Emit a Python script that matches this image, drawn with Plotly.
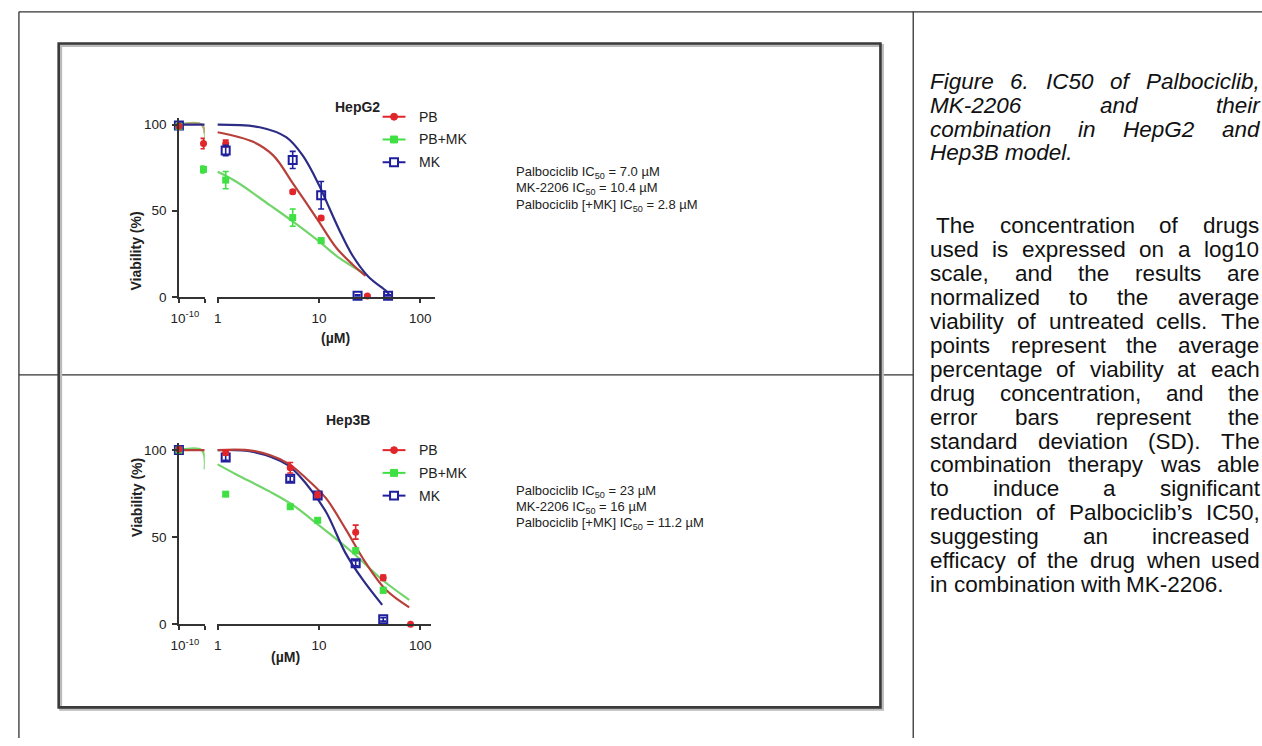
import plotly.graph_objects as go

W, H = 1262, 746

# ---------------- data ----------------
series_names = ["PB", "PB+MK", "MK"]

# HepG2 - control segment (plotted on the broken 10^-10 segment)
g2_seg1_x = [1e-10, 1e-9]
g2_seg1_pb = [99, 89]
g2_seg1_pbmk = [99, 74]
g2_seg1_pb_sd = [1, 3]
g2_seg1_pbmk_sd = [1, 2]
g2_seg1_mk_x = [1e-10]
g2_seg1_mk = [99.5]
g2_seg1_mk_sd = [2]

# HepG2 - concentration points (uM)
g2_x_pb = [1.2, 5.5, 10.5, 30]
g2_pb = [89, 61, 45.7, 0.5]
g2_pb_sd = [2, 1, 1, 0.5]
g2_x_pbmk = [1.2, 5.5, 10.5]
g2_pbmk = [67.8, 46, 32.6]
g2_pbmk_sd = [5, 5, 1.5]
g2_x_mk = [1.2, 5.5, 10.5, 24, 48]
g2_mk = [85, 79.5, 59, 0.6, 0.6]
g2_mk_sd = [3, 5, 8, 0.5, 0.5]

# HepG2 fitted curves
g2_fit_seg1_x = [1e-10, 8.5e-10, 1.12e-9]
g2_fit_seg1_pb = [100, 100, 95]
g2_fit_seg1_pbmk = [100, 100, 86]
g2_fit_seg1_mk = [100, 100, 100]
g2_fit_pb_x = [1.0, 2.24, 3.55, 5.5, 7.4, 10.0, 14.8, 21.4, 28.8]
g2_fit_pb = [95.6, 90, 82, 66, 55, 43.5, 28.5, 18.8, 12.1]
g2_fit_pbmk_x = [1.0, 1.53, 3.24, 5.5, 10.0, 15.8, 28.8]
g2_fit_pbmk = [72.6, 66.8, 53.4, 43.8, 32.2, 22.6, 13.1]
g2_fit_mk_x = [1.0, 2.6, 4.74, 6.9, 10.0, 11.7, 15.8, 21.4, 30.9, 45.7, 49.0]
g2_fit_mk = [100, 98.5, 92.7, 82.1, 64.9, 56, 39, 24, 11.5, 3.5, 1.5]

# Hep3B - control
b3_seg1_x = [1e-10]
b3_seg1_pb = [100.5]
b3_seg1_pbmk = [100]
b3_seg1_mk = [100]

# Hep3B - concentration points (uM)
b3_x = [1.2, 5.2, 9.7, 23, 43]
b3_pb = [98.6, 89.9, 74.3, 52.9, 26.7]
b3_pb_sd = [1.5, 3, 1.5, 4, 1.5]
b3_pbmk = [74.7, 67.5, 59.7, 42.2, 19.5]
b3_pbmk_sd = [1, 1, 1, 1.5, 1.5]
b3_mk = [95.7, 83.5, 73.9, 35, 2.8]
b3_mk_sd = [1.5, 1.5, 1.5, 1.5, 1]
b3_x_pb_extra = [80]
b3_pb_extra = [0]

# Hep3B fitted curves
b3_fit_seg1_x = [1e-10, 8.5e-10, 1.12e-9]
b3_fit_seg1_pb = [100, 100, 100]
b3_fit_seg1_pbmk = [100, 100, 89]
b3_fit_pb_x = [1.0, 2.24, 4.79, 7.4, 11.7, 18.2, 28.8, 45.7, 77.6]
b3_fit_pb = [100, 99.6, 92.8, 84, 72.4, 54.9, 35.4, 19.8, 9.7]
b3_fit_pbmk_x = [1.0, 1.53, 3.24, 5.5, 10.0, 21.4, 41.7, 77.6]
b3_fit_pbmk = [91.8, 86, 76.3, 68.5, 56.8, 41.2, 25.7, 14]
b3_fit_mk_x = [1.0, 2.24, 4.79, 7.4, 11.7, 18.2, 26.9, 42]
b3_fit_mk = [100, 99, 91.8, 81, 64.6, 41, 25.7, 11.1]

y_ticks = [0, 50, 100]
x_ticks = [1, 10, 100]
x_ticklabels = ["1", "10", "100"]

g2_ic50_lines = ["Palbociclib IC<sub>50</sub> = 7.0 \u00b5M",
                 "MK-2206 IC<sub>50</sub> = 10.4 \u00b5M",
                 "Palbociclib [+MK] IC<sub>50</sub> = 2.8 \u00b5M"]
b3_ic50_lines = ["Palbociclib IC<sub>50</sub> = 23 \u00b5M",
                 "MK-2206 IC<sub>50</sub> = 16 \u00b5M",
                 "Palbociclib [+MK] IC<sub>50</sub> = 11.2 \u00b5M"]

caption_title_lines = ["Figure 6. IC50 of Palbociclib,", "MK-2206 and their",
                       "combination in HepG2 and", "Hep3B model."]
caption_body_lines = [" The concentration of drugs", "used is expressed on a log10",
                      "scale, and the results are", "normalized to the average",
                      "viability of untreated cells. The", "points represent the average",
                      "percentage of viability at each", "drug concentration, and the",
                      "error bars represent the", "standard deviation (SD). The",
                      "combination therapy was able", "to induce a significant",
                      "reduction of Palbociclib\u2019s IC50,", "suggesting an increased",
                      "efficacy of the drug when used", "in combination with MK-2206."]

# ---------------- styles ----------------
FONT = "Liberation Sans, Arial, sans-serif"
C_PB, C_PBMK, C_MK = "#e0262b", "#3fe043", "#1f1f9e"
L_PB, L_PBMK, L_MK = "#b8403a", "#72d56a", "#2c2c86"
AX = "#333333"
TXT = "#222222"
CFS = 13.5  # chart text size


def px(x):
    return x / W


def py(y):
    return 1 - y / H


fig = go.Figure()

# axis geometry (pixels)
panels = [
    dict(y0=300, y100=126, seg1=(172, 198), seg2=(210, 430)),
    dict(y0=631, y100=455, seg1=(172, 198), seg2=(210, 426)),
]


def seg2_range(a, b):
    return [(a - 211) / 102.0, (b - 211) / 102.0]


tickfont = dict(family=FONT, size=CFS, color=TXT)
layout_axes = {}
for i, p in enumerate(panels):
    unit = (p["y0"] - p["y100"]) / 100.0
    ytop = p["y100"] - 4 * unit
    xa1 = "xaxis" if i == 0 else "xaxis3"
    xa2 = "xaxis2" if i == 0 else "xaxis4"
    ya = "yaxis" if i == 0 else "yaxis2"
    yref = "y" if i == 0 else "y2"
    xr1 = "x" if i == 0 else "x3"
    common_x = dict(showline=True, linecolor=AX, linewidth=1.6, ticks="outside", ticklen=4,
                    tickcolor=AX, tickwidth=1.5, showgrid=False, zeroline=False,
                    tickfont=tickfont, anchor=yref, type="log", ticklabelstandoff=4)
    layout_axes[xa1] = dict(domain=[px(p["seg1"][0]), px(p["seg1"][1])],
                            range=[-10, -8.95], tickvals=[1e-10, 10 ** -8.95],
                            ticktext=["10<sup>-10</sup>", ""], ticklabelshift=6, **common_x)
    layout_axes[xa2] = dict(domain=[px(p["seg2"][0]), px(p["seg2"][1])],
                            range=seg2_range(*p["seg2"]), tickvals=x_ticks,
                            ticktext=x_ticklabels, **common_x)
    layout_axes[ya] = dict(domain=[py(p["y0"]), py(ytop)], range=[0, 104], anchor=xr1,
                           showline=True, linecolor=AX, linewidth=1.6, ticks="outside",
                           ticklen=5, tickcolor=AX, tickwidth=1.5, tickvals=y_ticks,
                           showgrid=False, zeroline=False, tickfont=tickfont,
                           ticklabelstandoff=3)


def add_curve(x, y, color, xr, yr):
    fig.add_trace(go.Scatter(x=x, y=y, mode="lines",
                             line=dict(color=color, width=2.2, shape="spline", smoothing=1.0),
                             xaxis=xr, yaxis=yr, showlegend=False, hoverinfo="skip"))


def style(kind):
    if kind == "PB":
        return dict(symbol="circle", size=7, color=C_PB), C_PB
    if kind == "PB+MK":
        return dict(symbol="square", size=7, color=C_PBMK), C_PBMK
    return dict(symbol="square-open", size=8, color=C_MK, line=dict(width=2, color=C_MK)), C_MK


def add_pts(x, y, sd, kind, xr, yr):
    m, c = style(kind)
    fig.add_trace(go.Scatter(x=x, y=y, mode="markers", marker=m, cliponaxis=False,
                             error_y=dict(type="data", array=sd, visible=sd is not None,
                                          color=c, thickness=1.6, width=3),
                             xaxis=xr, yaxis=yr, showlegend=False))


# ---- HepG2 ----
add_curve(g2_fit_seg1_x, g2_fit_seg1_pbmk, L_PBMK, "x", "y")
add_curve(g2_fit_seg1_x, g2_fit_seg1_pb, "#c9a070", "x", "y")
add_curve(g2_fit_seg1_x, g2_fit_seg1_mk, L_MK, "x", "y")
add_curve(g2_fit_pbmk_x, g2_fit_pbmk, L_PBMK, "x2", "y")
add_curve(g2_fit_pb_x, g2_fit_pb, L_PB, "x2", "y")
add_curve(g2_fit_mk_x, g2_fit_mk, L_MK, "x2", "y")
add_pts(g2_seg1_mk_x, g2_seg1_mk, g2_seg1_mk_sd, "MK", "x", "y")
add_pts(g2_seg1_x, g2_seg1_pbmk, g2_seg1_pbmk_sd, "PB+MK", "x", "y")
add_pts(g2_seg1_x, g2_seg1_pb, g2_seg1_pb_sd, "PB", "x", "y")
add_pts(g2_x_pbmk, g2_pbmk, g2_pbmk_sd, "PB+MK", "x2", "y")
add_pts(g2_x_pb, g2_pb, g2_pb_sd, "PB", "x2", "y")
add_pts(g2_x_mk, g2_mk, g2_mk_sd, "MK", "x2", "y")

# ---- Hep3B ----
add_curve(b3_fit_seg1_x, b3_fit_seg1_pbmk, L_PBMK, "x3", "y2")
add_curve(b3_fit_seg1_x, b3_fit_seg1_pb, L_PB, "x3", "y2")
add_curve(b3_fit_pbmk_x, b3_fit_pbmk, L_PBMK, "x4", "y2")
add_curve(b3_fit_mk_x, b3_fit_mk, L_MK, "x4", "y2")
add_curve(b3_fit_pb_x, b3_fit_pb, L_PB, "x4", "y2")
add_pts(b3_seg1_x, b3_seg1_mk, None, "MK", "x3", "y2")
add_pts(b3_seg1_x, b3_seg1_pbmk, None, "PB+MK", "x3", "y2")
add_pts(b3_seg1_x, b3_seg1_pb, None, "PB", "x3", "y2")
add_pts(b3_x, b3_pbmk, b3_pbmk_sd, "PB+MK", "x4", "y2")
add_pts(b3_x, b3_mk, b3_mk_sd, "MK", "x4", "y2")
add_pts(b3_x, b3_pb, b3_pb_sd, "PB", "x4", "y2")
add_pts(b3_x_pb_extra, b3_pb_extra, None, "PB", "x4", "y2")

ann = []
shapes = []


def paper_ann(text, x, y, size=CFS, **kw):
    d = dict(text=text, x=px(x), y=py(y), xref="paper", yref="paper", showarrow=False,
             font=dict(family=FONT, size=size, color=kw.pop("color", TXT)))
    d.update(kw)
    ann.append(d)


# legends drawn as small glyphs + text (to the right of the curves)
leg_cols = {"PB": (C_PB, "circle"), "PB+MK": (C_PBMK, "square"), "MK": (C_MK, "open")}
for rows in ([118, 141, 164], [455, 478, 501]):
    for name, yy in zip(series_names, rows):
        c, kind = leg_cols[name]
        shapes.append(dict(type="line", xref="paper", yref="paper", x0=px(377), x1=px(400),
                           y0=py(yy), y1=py(yy), line=dict(color=c, width=2)))
        if kind == "circle":
            shapes.append(dict(type="circle", xref="paper", yref="paper", x0=px(385), x1=px(392),
                               y0=py(yy + 3.5), y1=py(yy - 3.5), fillcolor=c, line=dict(color=c, width=1)))
        elif kind == "square":
            shapes.append(dict(type="rect", xref="paper", yref="paper", x0=px(385), x1=px(392),
                               y0=py(yy + 3.5), y1=py(yy - 3.5), fillcolor=c, line=dict(color=c, width=1)))
        else:
            shapes.append(dict(type="rect", xref="paper", yref="paper", x0=px(384.5), x1=px(392.5),
                               y0=py(yy + 4), y1=py(yy - 4), fillcolor="white", line=dict(color=c, width=2)))
        paper_ann(name, 412, yy, size=14, xanchor="left", yanchor="middle")

# panel titles, axis titles, IC50 texts
for title, tx, ty, yl_y, mu_x, mu_y, ic_lines, ic_y in [
    ("HepG2", 327, 98, 212, 313, 342, g2_ic50_lines, 191),
    ("Hep3B", 318, 425, 545, 263, 674, b3_ic50_lines, 513),
]:
    paper_ann("<b>%s</b>" % title, tx, ty, size=14)
    paper_ann("<b>Viability (%)</b>", 119, yl_y, size=14, textangle=-90)
    paper_ann("<b>(\u00b5M)</b>", mu_x, mu_y, size=14)
    for k, ln in enumerate(ic_lines):
        paper_ann(ln, 510, ic_y + (k - 1) * 16.5, size=13, xanchor="left", yanchor="middle",
                  align="left", borderpad=0)

# caption text (justified word by word using Arial metrics)
AW = {' ': 278, ',': 278, '-': 333, '.': 278, '(': 333, ')': 333, '\u2019': 222,
      '0': 556, '1': 556, '2': 556, '3': 556, '4': 556, '5': 556, '6': 556, '7': 556, '8': 556, '9': 556,
      'A': 667, 'B': 667, 'C': 722, 'D': 722, 'E': 667, 'F': 611, 'G': 778, 'H': 722, 'I': 278,
      'J': 500, 'K': 667, 'L': 556, 'M': 833, 'N': 722, 'O': 778, 'P': 667, 'Q': 778, 'R': 722,
      'S': 667, 'T': 611, 'U': 722, 'V': 667, 'W': 944, 'X': 667, 'Y': 667, 'Z': 611,
      'a': 556, 'b': 556, 'c': 500, 'd': 556, 'e': 556, 'f': 278, 'g': 556, 'h': 556, 'i': 222,
      'j': 222, 'k': 500, 'l': 222, 'm': 833, 'n': 556, 'o': 556, 'p': 556, 'q': 556, 'r': 333,
      's': 500, 't': 278, 'u': 556, 'v': 500, 'w': 722, 'x': 500, 'y': 500, 'z': 500}
FS = 22.5
CX0, CX1 = 927, 1258


def tw(s):
    return sum(AW.get(ch, 556) for ch in s) / 1000.0 * FS


def place_line(line, y, italic, last, right=CX1):
    x0 = CX0
    if line.startswith(" "):
        x0 += tw(" ")
    words = line.strip().split()
    widths = [tw(w) for w in words]
    if last or len(words) == 1:
        gap = tw(" ")
    else:
        gap = (right - x0 - sum(widths)) / (len(words) - 1)
    x = x0
    for w, wd in zip(words, widths):
        t = "<i>%s</i>" % w if italic else w
        paper_ann(t, x, y, size=FS, xanchor="left", yanchor="middle", borderpad=0, color="#111")
        x += wd + gap


LH = 24.2
for i, line in enumerate(caption_title_lines):
    place_line(line, 82 + i * LH, True, i == len(caption_title_lines) - 1)
for i, line in enumerate(caption_body_lines):
    right = CX1 - 10 if line.startswith("suggesting") else CX1
    place_line(line, 228 + i * LH, False, i == len(caption_body_lines) - 1, right)

# table lines
line_style = dict(color="#333", width=1.3)
for (x0, y0, x1, y1) in [(11, 12, 1262, 12), (11, 12, 11, 746), (911, 12, 911, 746), (11, 379, 911, 379)]:
    shapes.append(dict(type="line", xref="paper", yref="paper", x0=px(x0), y0=py(y0), x1=px(x1), y1=py(y1),
                       line=line_style))
# inner picture frame with soft shadow
shapes.append(dict(type="rect", xref="paper", yref="paper", x0=px(53), y0=py(717), x1=px(880), y1=py(46),
                   line=dict(color="#bbbbbb", width=3)))
shapes.append(dict(type="rect", xref="paper", yref="paper", x0=px(51), y0=py(715), x1=px(878), y1=py(44),
                   line=dict(color="#3a3a3a", width=2.6)))

fig.update_layout(
    width=W, height=H, margin=dict(l=0, r=0, t=0, b=0),
    paper_bgcolor="white", plot_bgcolor="white", showlegend=False,
    annotations=ann, shapes=shapes,
    **layout_axes,
)
fig.write_html("out.html")
